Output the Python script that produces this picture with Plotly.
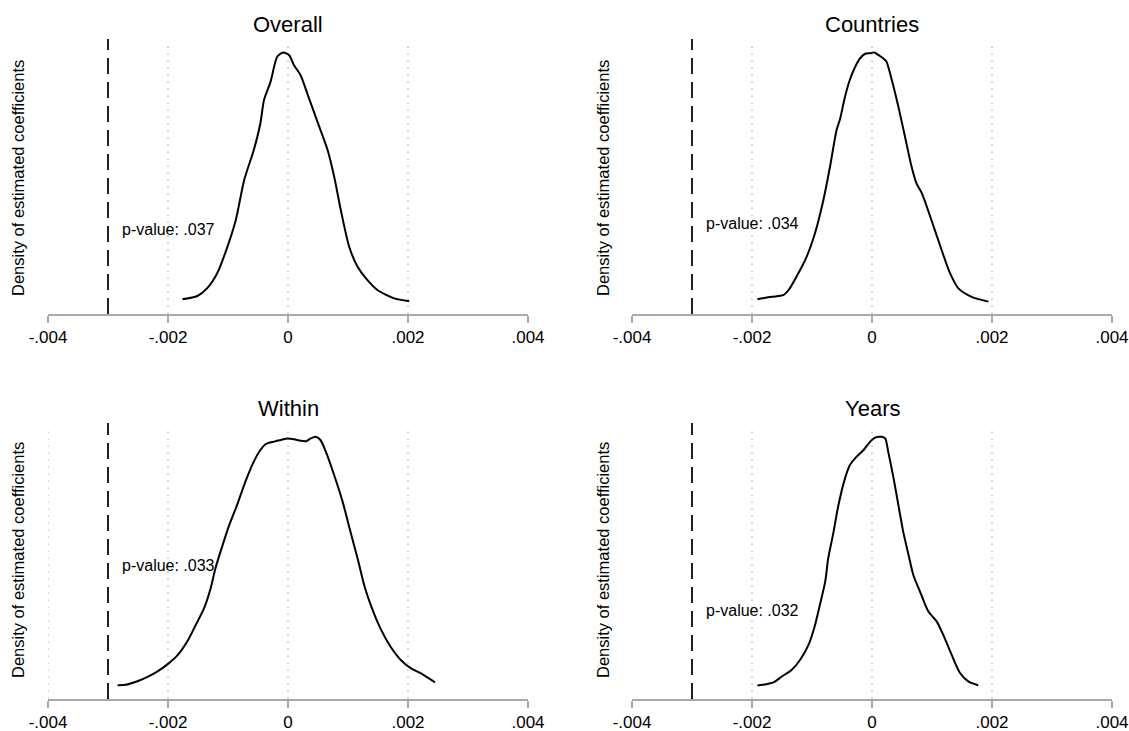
import plotly.graph_objects as go

# ---------------- data ----------------
panel_titles = ["Overall", "Countries", "Within", "Years"]
p_values = [".037", ".034", ".033", ".032"]
observed_coef = -0.003
tick_vals = [-0.004, -0.002, 0, 0.002, 0.004]
tick_text = ["-.004", "-.002", "0", ".002", ".004"]

overall_x = [-0.00176, -0.00151, -0.00135, -0.00118, -0.00101, -0.00087, -0.00073, -0.00057,
             -0.00046, -0.00040, -0.00029, -0.00018, -0.00008, 0.00002, 0.00010, 0.00021,
             0.00035, 0.00049, 0.00066, 0.00077, 0.00088, 0.00102, 0.00116, 0.00130,
             0.00149, 0.00177, 0.00202]
overall_density = [47, 55, 74, 112, 178, 245, 345, 420, 487, 545, 591, 653, 664, 657, 632, 607,
                   549, 491, 420, 353, 270, 178, 128, 99, 70, 49, 42]

countries_x = [-0.00191, -0.00167, -0.00148, -0.00139, -0.00126, -0.00109, -0.00095, -0.00081,
               -0.00070, -0.00059, -0.00053, -0.00045, -0.00037, -0.00028, -0.00020, -0.00012,
               -0.00003, 0.00004, 0.00011, 0.00019, 0.00024, 0.00033, 0.00044, 0.00055,
               0.00066, 0.00074, 0.00083, 0.00099, 0.00116, 0.00130, 0.00144, 0.00166, 0.00194]
countries_density = [47, 53, 57, 70, 103, 153, 212, 295, 378, 470, 499, 553, 595, 628, 649, 660,
                     662, 664, 657, 649, 641, 595, 528, 453, 378, 337, 312, 245, 170, 112, 74, 53, 41]

within_x = [-0.00284, -0.00271, -0.00251, -0.00234, -0.00218, -0.00201, -0.00184, -0.00168,
            -0.00154, -0.00140, -0.00129, -0.00121, -0.00109, -0.00098, -0.00085, -0.00071,
            -0.00057, -0.00046, -0.00037, -0.00023, -0.00012, -0.00001, 0.00010, 0.00021,
            0.00030, 0.00038, 0.00046, 0.00054, 0.00063, 0.00077, 0.00091, 0.00104, 0.00116,
            0.00127, 0.00138, 0.00154, 0.00171, 0.00188, 0.00205, 0.00221, 0.00245]
within_density = [37, 38, 47, 58, 71, 89, 112, 146, 187, 229, 279, 329, 387, 437, 487, 546,
                  596, 625, 640, 646, 650, 654, 652, 648, 647, 654, 658, 650, 621, 562, 496, 421,
                  354, 287, 237, 179, 133, 100, 79, 67, 44]

years_x = [-0.00191, -0.00164, -0.00151, -0.00134, -0.00120, -0.00106, -0.00095, -0.00087,
           -0.00078, -0.00073, -0.00064, -0.00056, -0.00045, -0.00037, -0.00026, -0.00014,
           -0.00003, 0.00005, 0.00016, 0.00022, 0.00027, 0.00036, 0.00044, 0.00052, 0.00061,
           0.00069, 0.00080, 0.00094, 0.00108, 0.00119, 0.00133, 0.00147, 0.00161, 0.00177]
years_density = [36, 44, 58, 75, 100, 137, 187, 237, 296, 354, 421, 487, 554, 587, 608, 625,
                 646, 656, 658, 654, 621, 554, 487, 421, 362, 312, 271, 221, 196, 162, 112, 67,
                 46, 37]

series_x = [overall_x, countries_x, within_x, years_x]
series_y = [overall_density, countries_density, within_density, years_density]

# ---------------- layout ----------------
W, H = 1129, 731
FONT = "Arial, 'Liberation Sans', sans-serif"

x_domains = [[48 / W, 528 / W], [632 / W, 1112 / W], [48 / W, 528 / W], [632 / W, 1112 / W]]
y_domains = [[(H - 314) / H, (H - 39) / H], [(H - 314) / H, (H - 39) / H],
             [(H - 699) / H, (H - 423) / H], [(H - 699) / H, (H - 423) / H]]
y_ranges = [[10, 697.5], [10, 697.5], [2.5, 692.5], [2.5, 692.5]]
title_y = [(H - 24) / H, (H - 24) / H, (H - 408) / H, (H - 408) / H]
ytitle_x = [18 / W, 603 / W, 18 / W, 603 / W]
ytitle_y = [(H - 178) / H, (H - 178) / H, (H - 560) / H, (H - 560) / H]
pval_y = [220, 235, 337, 225]

fig = go.Figure()
shapes = []
annotations = []
layout_axes = {}

for i in range(4):
    sfx = "" if i == 0 else str(i + 1)
    xa, ya = "x" + sfx, "y" + sfx
    fig.add_trace(go.Scatter(
        x=series_x[i], y=series_y[i], mode="lines",
        line=dict(color="black", width=2, shape="spline", smoothing=0.7),
        xaxis=xa, yaxis=ya, showlegend=False, hoverinfo="skip"))

    layout_axes["xaxis" + sfx] = dict(
        domain=x_domains[i], anchor=ya, range=[-0.004, 0.004], automargin=False,
        tickvals=tick_vals, ticktext=tick_text, showgrid=False, zeroline=False,
        showline=True, linecolor="#a9a9a9", linewidth=1.5,
        ticks="outside", ticklen=7, tickwidth=1.5, tickcolor="#a9a9a9",
        tickfont=dict(family=FONT, size=17, color="black"), fixedrange=True)
    layout_axes["yaxis" + sfx] = dict(
        domain=y_domains[i], anchor=xa, range=y_ranges[i], visible=False,
        automargin=False, fixedrange=True)

    # dotted vertical gridlines
    grid_vals = [-0.002, 0, 0.002] if i != 2 else [-0.004, -0.002, 0, 0.002]
    for gv in grid_vals:
        shapes.append(dict(type="line", xref=xa, yref=ya + " domain", x0=gv, x1=gv,
                           y0=0, y1=0.985, layer="below",
                           line=dict(color="#bdbdbd", width=1.5, dash="1.5px,5.5px")))
    # observed coefficient dashed line
    shapes.append(dict(type="line", xref=xa, yref=ya + " domain",
                       x0=observed_coef, x1=observed_coef, y0=0, y1=1,
                       line=dict(color="#222222", width=2, dash="16px,8px")))

    annotations.append(dict(text=panel_titles[i], xref="paper", yref="paper",
                            x=sum(x_domains[i]) / 2, y=title_y[i], xanchor="center",
                            yanchor="middle", showarrow=False,
                            font=dict(family=FONT, size=22, color="black")))
    annotations.append(dict(text="Density of estimated coefficients", xref="paper",
                            yref="paper", x=ytitle_x[i], y=ytitle_y[i], textangle=-90,
                            xanchor="center", yanchor="middle", showarrow=False,
                            font=dict(family=FONT, size=16.5, color="black")))
    annotations.append(dict(text="p-value: " + p_values[i], xref=xa, yref=ya,
                            x=-0.0028, y=pval_y[i], xanchor="left", yanchor="middle",
                            showarrow=False,
                            font=dict(family=FONT, size=16, color="black")))

fig.update_layout(
    template="none",
    width=W, height=H, margin=dict(l=0, r=0, t=0, b=0, pad=0, autoexpand=False),
    paper_bgcolor="white", plot_bgcolor="white",
    shapes=shapes, annotations=annotations, showlegend=False, **layout_axes)

fig.write_html("out.html", config={"displayModeBar": False})
